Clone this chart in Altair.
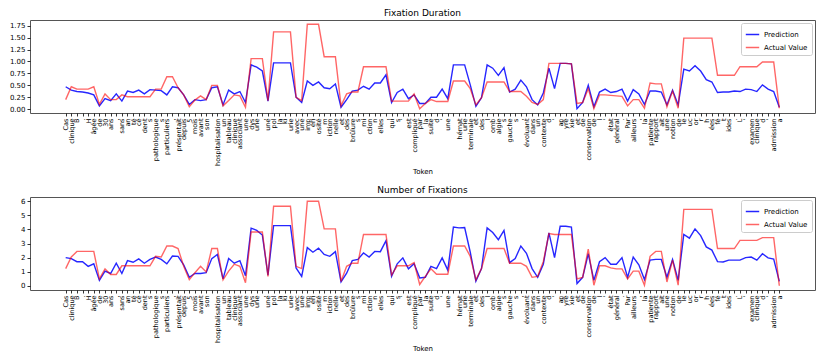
import json
import altair as alt
import pandas as pd

tokens = ["Cas", "clinique", "B", ".", "H", "âgée", "de", "30", "ans", ",",
          "sans", "an", "té", "cé", "dent", "s", "pathologique", "s", "particuliers", ",",
          "présentait", "depuis", "5", "mois", "avant", "son", "", "hospitalisation", "un", "tableau",
          "clinique", "associant", "une", "dys", "urie", ",", "une", "pol", "la", "ki",
          "urie", "avec", "une", "imp", "éri", "osité", "m", "iction", "nelle", "et",
          "des", "brûlure", "s", "mi", "ction", "n", "elles", ",", "qui", "s",
          "'", "est", "compliqué", "par", "la", "suite", "d", "'", "une", "",
          "hémat", "urie", "terminale", "et", "des", "l", "omb", "algie", "s", "gauche",
          "s", ",", "évoluant", "dans", "un", "contexte", "d", "'", "ap", "yré",
          "xie", "et", "de", "conservation", "de", "l", "'", "état", "général", ".",
          "Par", "ailleurs", ",", "la", "patiente", "rapport", "ait", "une", "notion", "de",
          "le", "uc", "or", "r", "h", "ées", "fé", "t", "ides", ".",
          "L", "'", "examen", "clinique", "d", "'", "admission", "a"]

dur_pred = [0.47, 0.40, 0.37, 0.36, 0.34, 0.30, 0.07, 0.22, 0.18, 0.32,
            0.17, 0.38, 0.35, 0.40, 0.32, 0.41, 0.40, 0.39, 0.30, 0.47,
            0.45, 0.30, 0.10, 0.20, 0.18, 0.20, 0.45, 0.47, 0.09, 0.40,
            0.32, 0.37, 0.14, 0.93, 0.88, 0.80, 0.17, 0.97, 0.97, 0.97,
            0.97, 0.25, 0.14, 0.59, 0.50, 0.57, 0.45, 0.43, 0.53, 0.04,
            0.20, 0.38, 0.40, 0.48, 0.42, 0.55, 0.55, 0.72, 0.14, 0.35,
            0.42, 0.22, 0.30, 0.12, 0.12, 0.25, 0.25, 0.42, 0.22, 0.93,
            0.93, 0.93, 0.51, 0.06, 0.24, 0.93, 0.86, 0.71, 0.87, 0.36,
            0.42, 0.61, 0.47, 0.20, 0.09, 0.34, 0.86, 0.43, 0.96, 0.96,
            0.95, 0.01, 0.14, 0.50, 0.05, 0.36, 0.42, 0.35, 0.37, 0.42,
            0.17, 0.41, 0.32, 0.10, 0.38, 0.38, 0.36, 0.09, 0.40, 0.09,
            0.84, 0.80, 0.91, 0.80, 0.62, 0.57, 0.35, 0.36, 0.36, 0.38,
            0.37, 0.42, 0.41, 0.37, 0.51, 0.42, 0.37, 0.04]

dur_act = [0.20, 0.47, 0.42, 0.42, 0.42, 0.47, 0.10, 0.32, 0.20, 0.20,
           0.30, 0.26, 0.26, 0.26, 0.26, 0.26, 0.42, 0.42, 0.68, 0.68,
           0.45, 0.30, 0.05, 0.19, 0.28, 0.20, 0.50, 0.50, 0.07, 0.18,
           0.30, 0.28, 0.04, 1.06, 1.06, 1.06, 0.18, 1.62, 1.62, 1.62,
           1.62, 0.25, 0.18, 1.78, 1.78, 1.78, 1.10, 1.10, 1.10, 0.07,
           0.32, 0.36, 0.36, 0.89, 0.89, 0.89, 0.89, 0.89, 0.17, 0.17,
           0.17, 0.17, 0.32, 0.01, 0.12, 0.20, 0.16, 0.16, 0.16, 0.59,
           0.59, 0.59, 0.43, 0.09, 0.24, 0.57, 0.57, 0.57, 0.57, 0.37,
           0.37, 0.37, 0.27, 0.14, 0.10, 0.20, 0.96, 0.96, 0.96, 0.96,
           0.95, 0.12, 0.14, 0.43, 0.01, 0.30, 0.30, 0.29, 0.28, 0.27,
           0.07, 0.20, 0.20, 0.02, 0.55, 0.53, 0.53, 0.05, 0.38, 0.02,
           1.49, 1.49, 1.49, 1.49, 1.49, 1.49, 0.71, 0.71, 0.71, 0.71,
           0.89, 0.89, 0.89, 0.89, 0.99, 0.99, 0.99, 0.02]

cnt_pred = [2.00, 1.93, 1.71, 1.71, 1.38, 1.56, 0.38, 1.04, 0.87, 1.60,
            0.87, 1.78, 1.67, 1.91, 1.60, 1.87, 2.04, 1.87, 1.56, 2.11,
            2.09, 1.49, 0.60, 0.87, 0.87, 0.93, 1.93, 2.22, 0.49, 1.93,
            1.60, 1.78, 0.71, 4.09, 3.93, 3.60, 0.76, 4.27, 4.27, 4.27,
            4.27, 1.27, 0.67, 2.71, 2.38, 2.67, 2.22, 2.09, 2.42, 0.27,
            0.89, 1.78, 1.87, 2.33, 2.04, 2.44, 2.42, 3.20, 0.67, 1.56,
            1.98, 1.20, 1.56, 0.56, 0.60, 1.38, 1.22, 1.98, 1.11, 4.16,
            4.11, 4.13, 2.38, 0.33, 1.22, 4.11, 3.78, 3.27, 3.93, 1.64,
            1.93, 2.82, 2.31, 1.22, 0.60, 1.53, 3.76, 2.00, 4.22, 4.22,
            4.16, 0.16, 0.60, 2.27, 0.38, 1.71, 2.00, 1.53, 1.53, 2.00,
            0.60, 2.04, 1.49, 0.44, 1.82, 1.87, 1.87, 0.60, 1.87, 0.38,
            3.64, 3.38, 4.04, 3.56, 2.76, 2.53, 1.71, 1.69, 1.82, 1.82,
            1.82, 2.00, 2.04, 1.82, 2.27, 1.98, 1.89, 0.31]

cnt_act = [1.22, 2.04, 2.44, 2.44, 2.44, 2.44, 0.49, 1.20, 0.80, 0.80,
           1.42, 1.42, 1.42, 1.42, 1.42, 1.42, 2.09, 2.04, 2.82, 2.82,
           2.64, 1.38, 0.44, 0.93, 1.38, 0.98, 2.64, 2.64, 0.42, 1.04,
           1.53, 1.38, 0.22, 3.82, 3.82, 3.82, 0.67, 5.64, 5.64, 5.64,
           5.64, 1.38, 1.22, 6.00, 6.00, 6.00, 4.04, 4.04, 4.04, 0.31,
           1.38, 1.60, 1.60, 3.64, 3.64, 3.64, 3.64, 3.64, 0.76, 1.42,
           1.42, 1.42, 1.64, 0.09, 0.67, 1.20, 0.82, 0.82, 0.82, 2.82,
           2.82, 2.82, 2.09, 0.42, 1.22, 2.64, 2.64, 2.64, 2.64, 1.60,
           1.60, 1.60, 1.38, 0.60, 0.67, 1.71, 3.71, 3.64, 3.64, 3.64,
           3.64, 0.49, 0.60, 2.60, 0.04, 1.42, 1.42, 1.27, 1.20, 1.20,
           0.49, 1.04, 1.04, 0.04, 2.09, 2.44, 2.44, 0.27, 1.82, 0.04,
           5.42, 5.42, 5.42, 5.42, 5.42, 5.42, 2.64, 2.64, 2.64, 2.64,
           3.22, 3.22, 3.22, 3.22, 3.42, 3.42, 3.42, 0.00]

series_names = ["Prediction", "Actual Value"]
series_colors = ["#0000ff", "#ff0000"]
dur_ticks = [0.0, 0.25, 0.5, 0.75, 1.0, 1.25, 1.5, 1.75]
cnt_ticks = [0, 1, 2, 3, 4, 5, 6]


def make_df(pred, act):
    rows = []
    for i, v in enumerate(pred):
        rows.append({"idx": i, "series": "Prediction", "value": v})
    for i, v in enumerate(act):
        rows.append({"idx": i, "series": "Actual Value", "value": v})
    return pd.DataFrame(rows)


label_expr = json.dumps(tokens, ensure_ascii=False) + "[datum.value]"


def panel(df, title, ydomain, yvalues, yfmt):
    return alt.Chart(
        df,
        title=alt.Title(title, fontSize=9, fontWeight="normal", offset=2, color="#000"),
    ).mark_line(strokeWidth=1.4).encode(
        x=alt.X(
            "idx:Q",
            scale=alt.Scale(domain=[-6.35, 133.35], nice=False, zero=False),
            axis=alt.Axis(
                values=list(range(len(tokens))), labelExpr=label_expr, labelAngle=270,
                labelOverlap=False, labelFontSize=6.5, labelBound=False, labelFlush=False,
                title="Token", titleFontSize=7, titleFontWeight="normal", titlePadding=2,
                tickSize=3, labelPadding=2, domain=False, grid=False,
            ),
        ),
        y=alt.Y(
            "value:Q",
            scale=alt.Scale(domain=ydomain, nice=False, zero=False),
            axis=alt.Axis(values=yvalues, format=yfmt, title=None, labelFontSize=7,
                          tickSize=3, labelPadding=2, domain=False, grid=False,
                          minExtent=20, maxExtent=20),
        ),
        color=alt.Color(
            "series:N",
            scale=alt.Scale(domain=series_names, range=series_colors),
            legend=alt.Legend(title=None, orient="top-right", offset=3, fillColor="white",
                              strokeColor="#cccccc", padding=4, cornerRadius=2,
                              labelFontSize=7, symbolType="stroke", symbolSize=180,
                              symbolStrokeWidth=1.5, rowPadding=2, symbolOpacity=0.8),
        ),
        opacity=alt.Opacity("series:N",
                            scale=alt.Scale(domain=series_names, range=[0.85, 0.6]),
                            legend=None),
    ).properties(width=785, height=93)


top = panel(make_df(dur_pred, dur_act), "Fixation Duration", [-0.08, 1.87], dur_ticks, ".2f")
bottom = panel(make_df(cnt_pred, cnt_act), "Number of Fixations", [-0.3, 6.3], cnt_ticks, "d")

chart = alt.vconcat(top, bottom, spacing=10).resolve_scale(
    color="independent", opacity="independent"
).properties(
    padding={"left": 0, "top": 0, "right": 0, "bottom": 0}
).configure(
    font="DejaVu Sans"
).configure_view(
    stroke="#555555", strokeWidth=1
).configure_axis(
    labelColor="#000000", tickColor="#000000", titleColor="#000000", tickWidth=0.8
)

chart.save("out.html", embed_options={"renderer": "svg", "actions": False})
